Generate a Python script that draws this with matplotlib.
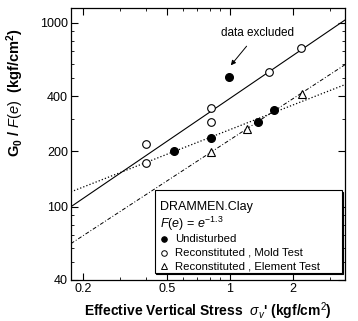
import matplotlib
matplotlib.use("Agg")
import matplotlib.pyplot as plt
from matplotlib.ticker import FixedLocator, NullFormatter

plt.rcParams.update({"font.family": ["Liberation Sans", "DejaVu Sans"], "mathtext.fontset": "custom",
                     "mathtext.rm": "Liberation Sans", "mathtext.it": "Liberation Sans:italic",
                     "mathtext.bf": "Liberation Sans:bold"})

# data
undist_x = [0.54, 0.81, 1.36, 1.62]
undist_y = [201, 236, 288, 335]
excluded_x = [0.99]
excluded_y = [511]
mold_x = [0.40, 0.40, 0.81, 0.81, 1.53, 2.18]
mold_y = [219, 173, 343, 288, 543, 732]
elem_x = [0.81, 1.205, 2.20]
elem_y = [198, 264, 413]

# fitted lines (end points)
fit_x = [0.175, 3.53]
mold_fit = [100, 1038]
undist_fit = [120.5, 462]
elem_fit = [63, 593]

fig = plt.figure(figsize=(3.58, 3.21), dpi=100)
ax = fig.add_axes([0.198, 0.128, 0.766, 0.847])
ax.set_xscale("log"); ax.set_yscale("log")

ax.plot(fit_x, mold_fit, "-", color="k", lw=0.8)
ax.plot(fit_x, undist_fit, ":", color="k", lw=0.9)
ax.plot(fit_x, elem_fit, "-.", color="k", lw=0.7, dashes=(4, 2, 1, 2))

ax.plot(undist_x + excluded_x, undist_y + excluded_y, "o", ms=5.5, mfc="k", mec="k", ls="none")
ax.plot(mold_x, mold_y, "o", ms=5.5, mfc="white", mec="k", mew=0.8, ls="none")
ax.plot(elem_x, elem_y, "^", ms=6, mfc="white", mec="k", mew=0.8, ls="none")

ax.annotate("data excluded", xy=(excluded_x[0], excluded_y[0] * 1.12), xytext=(1.35, 880),
            ha="center", va="center", fontsize=8.5,
            arrowprops=dict(arrowstyle="-|>", color="k", lw=0.7, mutation_scale=7, shrinkA=4))

ax.set_xlim(0.175, 3.53)
ax.set_ylim(40, 1205)
ax.xaxis.set_major_locator(FixedLocator([0.2, 0.5, 1, 2]))
ax.set_xticklabels(["0.2", "0.5", "1", "2"])
ax.xaxis.set_minor_locator(FixedLocator([0.3, 0.4, 0.6, 0.7, 0.8, 0.9, 3]))
ax.xaxis.set_minor_formatter(NullFormatter())
ax.yaxis.set_major_locator(FixedLocator([40, 100, 200, 400, 1000]))
ax.set_yticklabels(["40", "100", "200", "400", "1000"])
ax.yaxis.set_minor_locator(FixedLocator([50, 60, 70, 80, 90, 300, 500, 600, 700, 800, 900]))
ax.yaxis.set_minor_formatter(NullFormatter())
ax.tick_params(which="both", direction="in", top=True, right=True, labelsize=9, pad=2)
ax.tick_params(which="major", length=5)
ax.tick_params(which="minor", length=2.5)
for s in ax.spines.values():
    s.set_linewidth(0.9)

ax.set_xlabel("Effective Vertical Stress  $\\sigma_v$' (kgf/cm$^2$)", fontsize=10, fontweight="bold", labelpad=4)
ax.set_ylabel("$\\mathbf{G_0}$ / $\\mathit{F(e)}$  (kgf/cm$^\\mathbf{2}$)", fontsize=10.5, fontweight="bold")
ax.yaxis.set_label_coords(-0.165, 0.69)

# legend box drawn as text block, with a thin shadow on right and bottom
shadow = plt.Rectangle((0.309, 0.02), 0.685, 0.305, transform=ax.transAxes, fc="k", ec="k", lw=0.8, zorder=4)
ax.add_patch(shadow)
box = plt.Rectangle((0.305, 0.025), 0.685, 0.305, transform=ax.transAxes,
                    fc="white", ec="k", lw=0.8, zorder=4)
ax.add_patch(box)
ax.text(0.325, 0.27, "DRAMMEN.Clay", transform=ax.transAxes, fontsize=9, va="center", zorder=5)
ax.text(0.325, 0.205, "$\\mathit{F(e)}$ = $\\mathit{e}^{-1.3}$", transform=ax.transAxes, fontsize=9,
        va="center", zorder=5)
entries = [("o", "k", "Undisturbed"), ("o", "white", "Reconstituted , Mold Test"),
           ("^", "white", "Reconstituted , Element Test")]
for i, (m, fc, lab) in enumerate(entries):
    yy = 0.15 - i * 0.05
    ax.plot([0.338], [yy], m, ms=4, mfc=fc, mec="k", mew=0.7, transform=ax.transAxes, zorder=5)
    ax.text(0.38, yy, lab, transform=ax.transAxes, fontsize=8.2, va="center", zorder=5)

fig.savefig("out.png", dpi=100)
